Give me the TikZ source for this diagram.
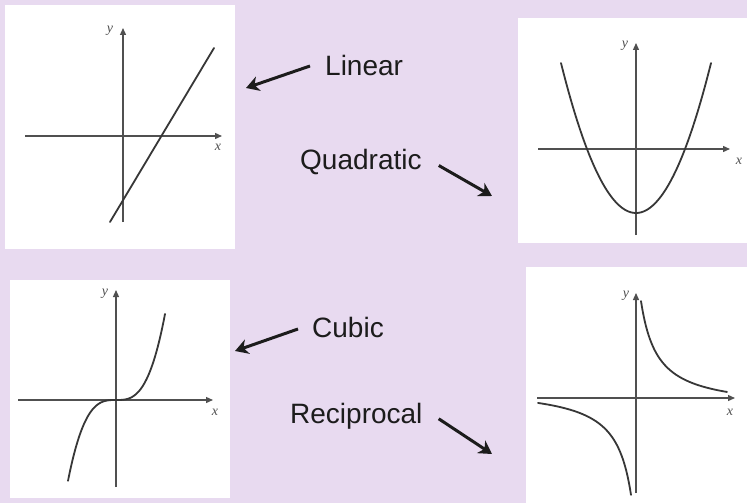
\documentclass[tikz,border=0pt]{standalone}
\usepackage{fontspec}
\setmainfont{Liberation Sans}
\newfontfamily\axfont{Liberation Serif}
\usetikzlibrary{arrows.meta}
\definecolor{bg}{RGB}{232,218,240}
\definecolor{axcol}{RGB}{80,80,80}
\definecolor{curvecol}{RGB}{55,55,55}
\definecolor{txt}{RGB}{28,28,28}
\begin{document}
\begin{tikzpicture}[x=1pt,y=-1pt,
  panel/.style={fill=white},
  axis/.style={draw=axcol, line width=1.3pt, -{Triangle[length=7pt,width=6pt]}},
  curve/.style={draw=curvecol, line width=1.8pt, line cap=round},
  lbl/.style={font=\fontsize{28}{32}\selectfont, text=txt, inner sep=0pt, anchor=base west},
  axlbl/.style={font=\axfont\itshape\fontsize{14}{15}\selectfont, text=axcol, inner sep=0pt},
  pointer/.style={draw=txt, line width=3pt, -{Stealth[length=13pt,width=15pt,inset=4pt]}}]
\useasboundingbox (0,0) rectangle (747,503);
\fill[bg] (0,0) rectangle (747,503);

% panels
\fill[panel] (5,5) rectangle (235,249);
\fill[panel] (518,18) rectangle (747,243);
\fill[panel] (10,280) rectangle (230,498);
\fill[panel] (526,267) rectangle (747,503);

% Linear graph
\draw[axis] (25,136) -- (222,136);
\draw[axis] (123,222) -- (123,28);
\draw[curve] (110,222) -- (214,48);
\node[axlbl] (ly1) at (110,31) {y};
\node[axlbl] (lx1) at (218,147) {x};

% Quadratic graph
\draw[axis] (538,149) -- (730,149);
\draw[axis] (636,235) -- (636,43);
\draw[curve, domain=561:711, samples=80, smooth] plot (\x, {213 - 0.026656*(\x-636)*(\x-636)});
\node[axlbl] (ly2) at (625,46) {y};
\node[axlbl] (lx2) at (739,161) {x};

% Cubic graph
\draw[axis] (18,400) -- (213,400);
\draw[axis] (116,487) -- (116,290);
\draw[curve, domain=68:165, samples=80, smooth] plot (\x, {400 - 86*((\x-116)/49)*((\x-116)/49)*((\x-116)/49)});
\node[axlbl] (ly3) at (105,294) {y};
\node[axlbl] (lx3) at (215,412) {x};

% Reciprocal graph
\draw[axis] (537,398) -- (735,398);
\draw[axis] (636,493) -- (636,293);
\draw[curve, domain=641:727, samples=80, smooth] plot (\x, {398 - (1789/(\x-636+11.52) - 11.4)});
\draw[curve, domain=538:631, samples=80, smooth] plot (\x, {398 + (1789/(636-\x+11.52) - 11.4)});
\node[axlbl] (ly4) at (626,296) {y};
\node[axlbl] (lx4) at (730,412) {x};

% labels
\node[lbl] (linear) at (325,76) {Linear};
\node[lbl] (quad) at (300,169) {Quadratic};
\node[lbl] (cubic) at (312,337) {Cubic};
\node[lbl] (recip) at (290,423) {Reciprocal};

\coordinate (linT) at (246,88);
\coordinate (quadT) at (492,196);
\coordinate (cubT) at (235,351);
\coordinate (recT) at (492,454);

\draw[pointer] (linear.west) ++(-15,0) -- (linT);
\draw[pointer] (quad.east) ++(17,4) -- (quadT);
\draw[pointer] (cubic.west) ++(-14,2) -- (cubT);
\draw[pointer] (recip.east) ++(16,3) -- (recT);
\end{tikzpicture}
\end{document}
